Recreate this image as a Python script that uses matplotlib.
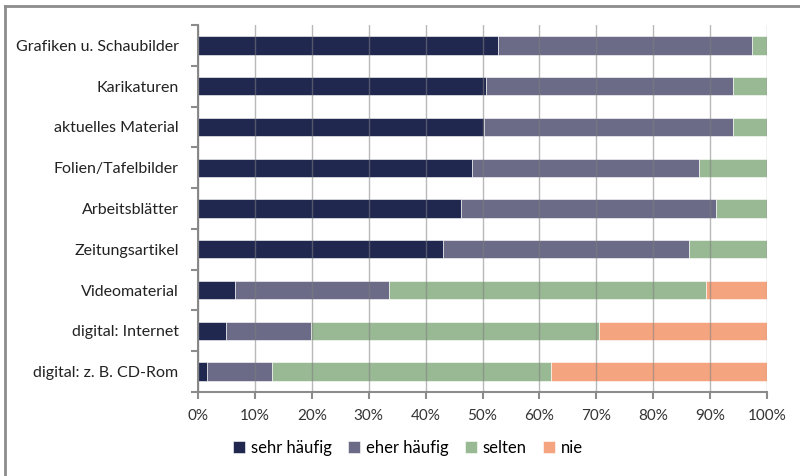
import numpy as np
import matplotlib.pyplot as plt
from matplotlib.lines import Line2D

categories = ['Grafiken u. Schaubilder', 'Karikaturen', 'aktuelles Material',
              'Folien/Tafelbilder', 'Arbeitsblätter', 'Zeitungsartikel',
              'Videomaterial', 'digital: Internet', 'digital: z. B. CD-Rom']
series = ['sehr häufig', 'eher häufig', 'selten', 'nie']
sehr_haeufig = [52.7, 50.6, 50.2, 48.1, 46.2, 43.1, 6.5, 4.9, 1.5]
eher_haeufig = [44.7, 43.5, 43.9, 40.0, 44.8, 43.2, 27.0, 14.9, 11.5]
selten = [2.6, 5.9, 5.9, 11.9, 9.0, 13.7, 55.7, 50.7, 49.0]
nie = [0.0, 0.0, 0.0, 0.0, 0.0, 0.0, 10.8, 29.5, 38.0]
colors = ['#21284f', '#6b6b87', '#99b894', '#f4a57f']

plt.rcParams['font.family'] = ['Lato', 'DejaVu Sans']

fig = plt.figure(figsize=(8, 4.76), dpi=100)
ax = fig.add_axes([198 / 800, 1 - 392 / 476, 569 / 800, 367 / 476])

y = np.arange(len(categories))
left = np.zeros(len(categories))
for name, vals, c in zip(series, [sehr_haeufig, eher_haeufig, selten, nie], colors):
    vals = np.array(vals)
    ax.barh(y, vals, left=left, height=0.45, color=c, label=name,
            edgecolor='white', linewidth=0.4, zorder=2)
    left += vals

ax.set_xlim(0, 100)
ax.set_ylim(len(categories) - 0.5, -0.5)
ax.set_xticks(np.arange(0, 101, 10))
ax.set_xticklabels([f'{v}%' for v in range(0, 101, 10)], fontsize=11, color='#333333')
ax.set_yticks(y)
ax.set_yticklabels(categories, fontsize=11.5, color='#222222')
ax.tick_params(axis='y', length=0, pad=14)
ax.tick_params(axis='x', length=5, color='#8c8c8c', width=1.5, pad=7)
ax.set_yticks(np.arange(-0.5, len(categories), 1), minor=True)
ax.tick_params(axis='y', which='minor', length=5, color='#8c8c8c', width=1.5)
ax.xaxis.grid(True, color='#7f7f7f', linewidth=1, alpha=0.55, zorder=3)
ax.set_axisbelow(False)
for s in ['top', 'right']:
    ax.spines[s].set_visible(False)
for s in ['left', 'bottom']:
    ax.spines[s].set_color('#8c8c8c')
    ax.spines[s].set_linewidth(1.5)

fig.legend(*ax.get_legend_handles_labels(), loc='center', bbox_to_anchor=(0.51, 1 - 448 / 476),
           ncol=4, frameon=False, fontsize=12, handlelength=0.7, handleheight=0.7,
           handletextpad=0.35, columnspacing=1.0)

# outer frame: only top and left edges are visible in the crop
fig.add_artist(Line2D([5 / 800, 5 / 800], [0, 1 - 6 / 476], transform=fig.transFigure,
                      color='#8c8c8c', linewidth=2))
fig.add_artist(Line2D([5 / 800, 1], [1 - 6 / 476, 1 - 6 / 476], transform=fig.transFigure,
                      color='#8c8c8c', linewidth=2))

fig.savefig('out.png', dpi=100)
